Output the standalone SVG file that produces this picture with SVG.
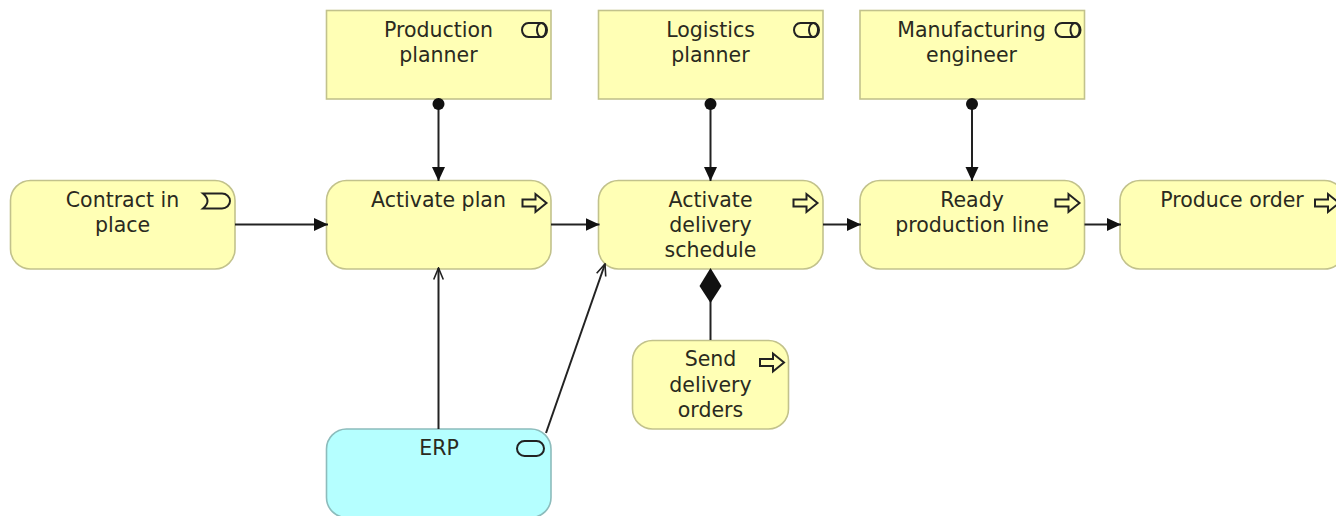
<svg xmlns="http://www.w3.org/2000/svg" width="1336" height="516" viewBox="0 0 1336 516">
<style>
.y{fill:#ffffb5;stroke:#c2c28c;stroke-width:1.6}
.c{fill:#b5ffff;stroke:#8cbcbc;stroke-width:1.6}
text{font-family:"DejaVu Sans",sans-serif;font-size:20.500px;fill:#2a2a20;text-anchor:middle}
.i{fill:none;stroke:#222;stroke-width:2}
.l{fill:none;stroke:#222;stroke-width:2}
</style>
<defs>
<marker id="tri" markerUnits="userSpaceOnUse" markerWidth="16" markerHeight="16" refX="14" refY="8" orient="auto"><path d="M0,1.500 L14,8 L0,14.500 Z" fill="#111"/></marker>
<marker id="open" markerUnits="userSpaceOnUse" markerWidth="14" markerHeight="14" refX="12.500" refY="7" orient="auto"><path d="M1,2.200 L12.500,7 L1,11.800" fill="none" stroke="#222" stroke-width="1.600"/></marker>
<path id="ar" class="i" d="M0,6.500 H13 V1 L24,10 L13,19 V13.500 H0 Z"/>
<g id="role"><path class="i" d="M7,1 H20 A5.500,7 0 0 1 20,15 H7 A6.500,7 0 0 1 7,1 Z"/><ellipse class="i" cx="20" cy="8" rx="4.500" ry="7"/></g>
</defs>
<g id="n-production-planner"><rect class="y" x="326.500" y="10.500" width="224.500" height="88.500"/><text x="438.500" y="37">Production</text><text x="438.500" y="62">planner</text><use href="#role" x="521.500" y="22"/></g>
<g id="n-logistics-planner"><rect class="y" x="598.500" y="10.500" width="224.500" height="88.500"/><text x="710.500" y="37">Logistics</text><text x="710.500" y="62">planner</text><use href="#role" x="793.500" y="22"/></g>
<g id="n-manufacturing-engineer"><rect class="y" x="860" y="10.500" width="224.500" height="88.500"/><text x="971.500" y="37">Manufacturing</text><text x="971.500" y="62">engineer</text><use href="#role" x="1055" y="22"/></g>
<g id="n-contract"><rect class="y" x="10.500" y="180.500" width="224.500" height="88.500" rx="20"/><text x="122.500" y="207">Contract in</text><text x="122.500" y="232">place</text><path class="i" d="M203,193.500H222A8,7.500 0 0 1 222,208.500H203Q212,201 203,193.500Z"/></g>
<g id="n-activate-plan"><rect class="y" x="326.500" y="180.500" width="224.500" height="88.500" rx="20"/><text x="438.500" y="207">Activate plan</text><use href="#ar" x="522.500" y="193"/></g>
<g id="n-activate-delivery"><rect class="y" x="598.500" y="180.500" width="224.500" height="88.500" rx="20"/><text x="710.500" y="207">Activate</text><text x="710.500" y="232">delivery</text><text x="710.500" y="257">schedule</text><use href="#ar" x="793.500" y="193"/></g>
<g id="n-ready-line"><rect class="y" x="860" y="180.500" width="224.500" height="88.500" rx="20"/><text x="972" y="207">Ready</text><text x="972" y="232">production line</text><use href="#ar" x="1055.500" y="193"/></g>
<g id="n-produce-order"><rect class="y" x="1120" y="180.500" width="224.500" height="88.500" rx="20"/><text x="1232" y="207">Produce order</text><use href="#ar" x="1315" y="193"/></g>
<g id="n-send-orders"><rect class="y" x="632.500" y="340.500" width="156" height="88.500" rx="20"/><text x="710.500" y="366">Send</text><text x="710.500" y="392">delivery</text><text x="710.500" y="417">orders</text><use href="#ar" x="760" y="352.500"/></g>
<g id="n-erp"><rect class="c" x="326.500" y="429" width="224.500" height="88.500" rx="20"/><text x="439" y="455">ERP</text><rect class="i" x="517" y="441" width="27" height="15" rx="7.500"/></g>
<g id="connectors">
<path class="l" d="M438.500 104V181" marker-end="url(#tri)"/>
<circle cx="438.500" cy="104" r="6" fill="#111"/>
<path class="l" d="M710.500 104V181" marker-end="url(#tri)"/>
<circle cx="710.500" cy="104" r="6" fill="#111"/>
<path class="l" d="M972 104V181" marker-end="url(#tri)"/>
<circle cx="972" cy="104" r="6" fill="#111"/>
<path class="l" d="M235 224.500H328" marker-end="url(#tri)"/>
<path class="l" d="M551 224.500H599.500" marker-end="url(#tri)"/>
<path class="l" d="M823 224.500H861" marker-end="url(#tri)"/>
<path class="l" d="M1084.500 224.500H1121" marker-end="url(#tri)"/>
<path class="l" d="M438.500 429V268" marker-end="url(#open)"/>
<path class="l" d="M546 433L605 264" marker-end="url(#open)"/>
<path class="l" d="M710.500 340V300"/>
<path d="M710.500 268L721.500 286L710.500 303L699.500 286Z" fill="#111"/>
</g>
</svg>
